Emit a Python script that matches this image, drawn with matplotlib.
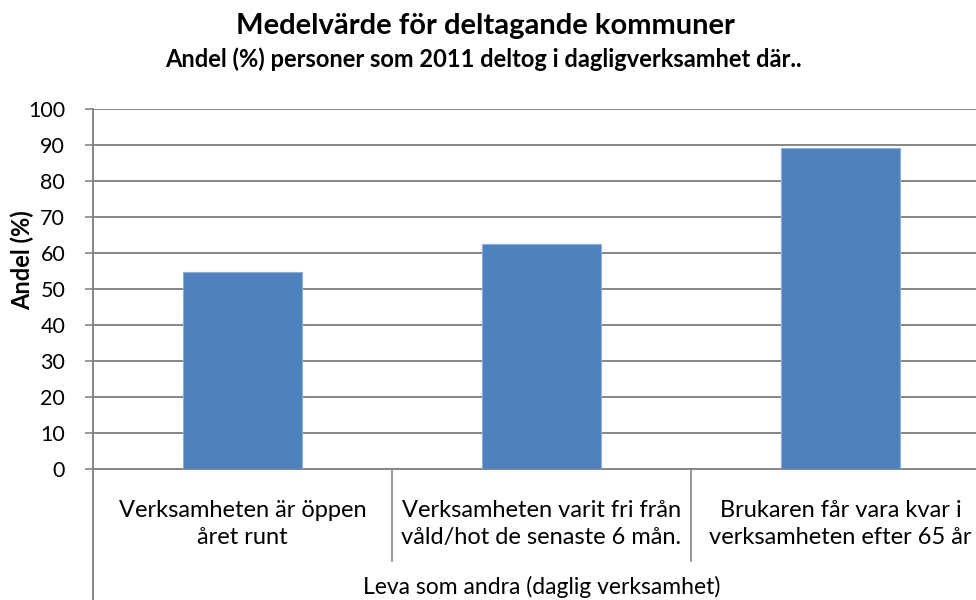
import matplotlib
matplotlib.use("Agg")
import matplotlib.pyplot as plt
import matplotlib.transforms as mtransforms

# data
categories = [
    "Verksamheten är öppen\nåret runt",
    "Verksamheten varit fri från\nvåld/hot de senaste 6 mån.",
    "Brukaren får vara kvar i\nverksamheten efter 65 år",
]
values = [54.6, 62.6, 89.3]
group_label = "Leva som andra (daglig verksamhet)"
yticks = list(range(0, 101, 10))

plt.rcParams['font.family'] = ['Lato', 'DejaVu Sans']

W, H = 976, 600
fig = plt.figure(figsize=(W / 100, H / 100), dpi=100)
# axes spans x 93..990 px (clipped at right edge), y 109..469 px
ax = fig.add_axes([93 / W, (H - 469) / H, (990 - 93) / W, 360 / H])

x = list(range(len(categories)))
ax.bar(x, values, width=0.4, color="#4F81BD", edgecolor="#8AAEDB", linewidth=0.8, zorder=3)

ax.set_xlim(-0.5, len(categories) - 0.5)
ax.set_ylim(0, 100)
ax.set_yticks(yticks)
ax.yaxis.grid(True, color="#868686", linewidth=1.4, zorder=0)
ax.tick_params(axis="y", length=6, width=1.2, color="#868686", labelsize=15.5, pad=14)
ax.tick_params(axis="x", length=0, labelbottom=False)
for s in ["top", "right"]:
    ax.spines[s].set_visible(False)
ax.spines["left"].set_color("#868686")
ax.spines["left"].set_linewidth(1.4)
ax.spines["bottom"].set_color("#868686")
ax.spines["bottom"].set_linewidth(1.4)

# category labels and separators under the axis
trans = mtransforms.blended_transform_factory(ax.transData, ax.transAxes)
px = 1 / 360.0
for i, lab in enumerate(categories):
    for j, line in enumerate(lab.split("\n")):
        ax.text(i, -(48 + 27 * j) * px, line, transform=trans, ha="center",
                va="baseline", fontsize=17, color="black")
for b in [0.5, 1.5]:
    ax.plot([b, b], [0, -92 * px], transform=trans, color="#868686",
            linewidth=1.2, clip_on=False)
ax.plot([-0.5, -0.5], [0, -140 * px], transform=trans, color="#868686",
        linewidth=1.4, clip_on=False)
ax.text(0.5 * (len(categories) - 1), -125 * px, group_label, transform=trans,
        ha="center", va="baseline", fontsize=16.5)

fig.text(22 / W, 1 - 260 / H, "Andel (%)", rotation=90, ha="center", va="center",
         fontsize=17, fontweight="bold")

fig.text(485 / W, 1 - 34 / H, "Medelvärde för deltagande kommuner",
         ha="center", va="baseline", fontsize=21, fontweight="bold")
fig.text(483 / W, 1 - 67 / H, "Andel (%) personer som 2011 deltog i dagligverksamhet där..",
         ha="center", va="baseline", fontsize=17, fontweight="bold")

fig.savefig("out.png", dpi=100)
